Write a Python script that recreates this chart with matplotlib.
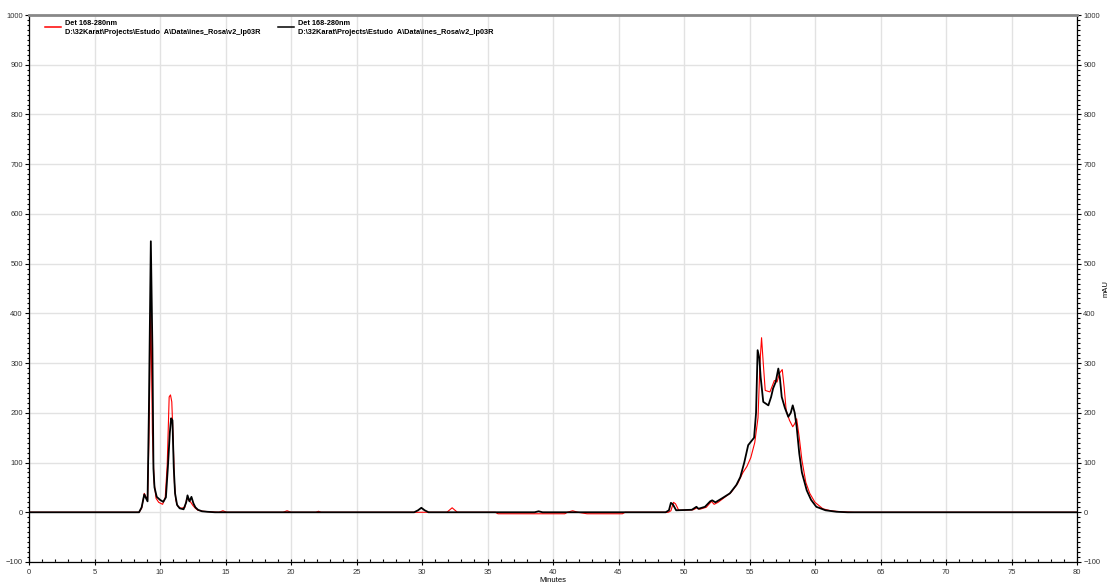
import numpy as np
import matplotlib
matplotlib.use('Agg')
from matplotlib import pyplot as plt
from matplotlib.ticker import MultipleLocator

plt.rcParams['font.family'] = ['Liberation Sans', 'DejaVu Sans']

# trace 1 (red) - minutes / mAU
redT = [0, 8.4, 8.6, 8.8, 8.95, 9.05, 9.15, 9.3, 9.42, 9.55, 9.7, 9.9, 10.2, 10.4, 10.55, 10.7, 10.8, 10.9,
        11.0, 11.1, 11.2, 11.35, 11.6, 11.9, 12.05, 12.2, 12.35, 12.5, 12.7, 12.9, 13.3, 13.8, 14.5, 14.8, 15.1,
        19.4, 19.7, 20.0, 21.9, 22.1, 22.3, 31.9, 32.3, 32.7, 35.6, 35.8, 40.9, 41.1, 41.5, 41.9, 42.6, 45.3, 45.5,
        48.8, 49.0, 49.2, 49.35, 49.6, 50.7, 51.0, 51.2, 51.7, 52.1, 52.3, 52.6, 53.1, 53.6, 54.1, 54.5, 54.8,
        55.1, 55.4, 55.65, 55.8, 55.92, 56.05, 56.2, 56.56, 56.9, 57.1, 57.3, 57.5, 57.65, 57.8, 58.05, 58.3,
        58.45, 58.6, 58.8, 59.0, 59.3, 59.6, 60.0, 60.6, 61.2, 62.0, 63.0, 80]
redV = [0, 0, 8, 38, 30, 25, 140, 410, 160, 60, 28, 20, 16, 30, 95, 232, 236, 222,
        150, 60, 25, 12, 8, 10, 28, 24, 20, 14, 8, 4, 2, 1, 0, 3, 0,
        0, 3, 0, 0, 2, 0, 0, 9, 0, 0, -3, -3, 0, 3, 0, -3, -3, 0,
        0, 3, 20, 17, 4, 5, 9, 6, 10, 22, 16, 20, 30, 40, 58, 80, 92,
        110, 140, 190, 300, 351, 300, 245, 242, 265, 262, 280, 287, 250, 205, 185, 172,
        178, 188, 150, 105, 60, 38, 20, 7, 3, 1, 0, 0]

# trace 2 (black)
blackT = [0, 8.4, 8.6, 8.8, 8.9, 9.05, 9.15, 9.3, 9.42, 9.5, 9.58, 9.75, 10.0, 10.25, 10.45, 10.6, 10.75,
          10.85, 10.95, 11.05, 11.15, 11.3, 11.5, 11.8, 12.0, 12.1, 12.25, 12.4, 12.55, 12.7, 12.9, 13.2,
          13.6, 14.2, 29.4, 29.7, 29.95, 30.2, 30.5, 38.6, 38.9, 39.2, 48.6, 48.85, 49.0, 49.15, 49.4, 50.6,
          50.95, 51.1, 51.6, 52.0, 52.15, 52.4, 52.9, 53.5, 54.0, 54.3, 54.6, 54.9, 55.2, 55.35, 55.5, 55.62,
          55.75, 55.85, 56.05, 56.44, 56.65, 56.8, 57.0, 57.2, 57.32, 57.46, 57.7, 57.96, 58.15, 58.3, 58.45,
          58.6, 58.8, 59.0, 59.37, 59.7, 60.1, 60.8, 61.65, 62.5, 80]
blackV = [0, 0, 10, 36, 30, 22, 200, 545, 330, 88, 50, 31, 25, 21, 30, 90, 160,
          189, 185, 90, 38, 15, 8, 6, 20, 34, 22, 31, 18, 10, 5, 2,
          1, 0, 0, 4, 9, 4, 0, 0, 2, 0, 0, 4, 19, 16, 4, 5,
          11, 7, 11, 22, 24, 20, 28, 38, 55, 71, 100, 135, 145, 150, 200, 326,
          310, 272, 222, 215, 232, 249, 262, 289, 270, 232, 210, 192, 200, 215, 200,
          172, 118, 80, 44, 25, 11, 4, 1, 0, 0]

legLabel = 'Det 168-280nm\nD:\\32Karat\\Projects\\Estudo  A\\Data\\ines_Rosa\\v2_lp03R'

fig = plt.figure(figsize=(11.1, 5.88), dpi=100)
ax = fig.add_axes([29/1110, 1-562/588, (1077-29)/1110, (562-15)/588])

ax.plot(redT, redV, color='#ff0000', lw=0.8, label=legLabel)
ax.plot(blackT, blackV, color='black', lw=1.3, label=legLabel)

ax.set_xlim(0, 80)
ax.set_ylim(-100, 1000)
ax.xaxis.set_major_locator(MultipleLocator(5))
ax.xaxis.set_minor_locator(MultipleLocator(1))
ax.yaxis.set_major_locator(MultipleLocator(100))
ax.yaxis.set_minor_locator(MultipleLocator(10))
ax.grid(True, which='major', color='#e2e2e2', lw=1.0)
ax.set_axisbelow(True)

ax.tick_params(which='both', labelsize=5.5, labelcolor='#333333', width=0.8)
ax.tick_params(axis='y', which='both', direction='out', right=True, labelright=True)
ax.tick_params(axis='y', which='major', length=3, pad=1.5)
ax.tick_params(axis='y', which='minor', length=1.8)
ax.tick_params(axis='x', which='major', direction='inout', length=4, pad=3)
ax.tick_params(axis='x', which='minor', direction='in', length=2)
for s in ['left', 'right', 'bottom']:
    ax.spines[s].set_linewidth(0.9)
ax.spines['top'].set_color('#888888')
ax.spines['top'].set_linewidth(2.0)

ax.set_xlabel('Minutes', fontsize=5.5, labelpad=1)
ax.text(1.028, 0.5, 'mAU', transform=ax.transAxes, rotation=90, fontsize=5.5,
        va='center', ha='center')

leg = ax.legend(loc='upper left', ncol=2, frameon=False, handlelength=2.2, handletextpad=0.55,
                columnspacing=2.4, bbox_to_anchor=(0.0095, 1.0025), borderaxespad=0.4,
                prop={'weight': 'bold', 'size': 5.3})
for t in leg.get_texts():
    t.set_linespacing(1.4)
for h in leg.get_lines():
    h.set_linewidth(1.1)

fig.savefig('out.png', dpi=100)
